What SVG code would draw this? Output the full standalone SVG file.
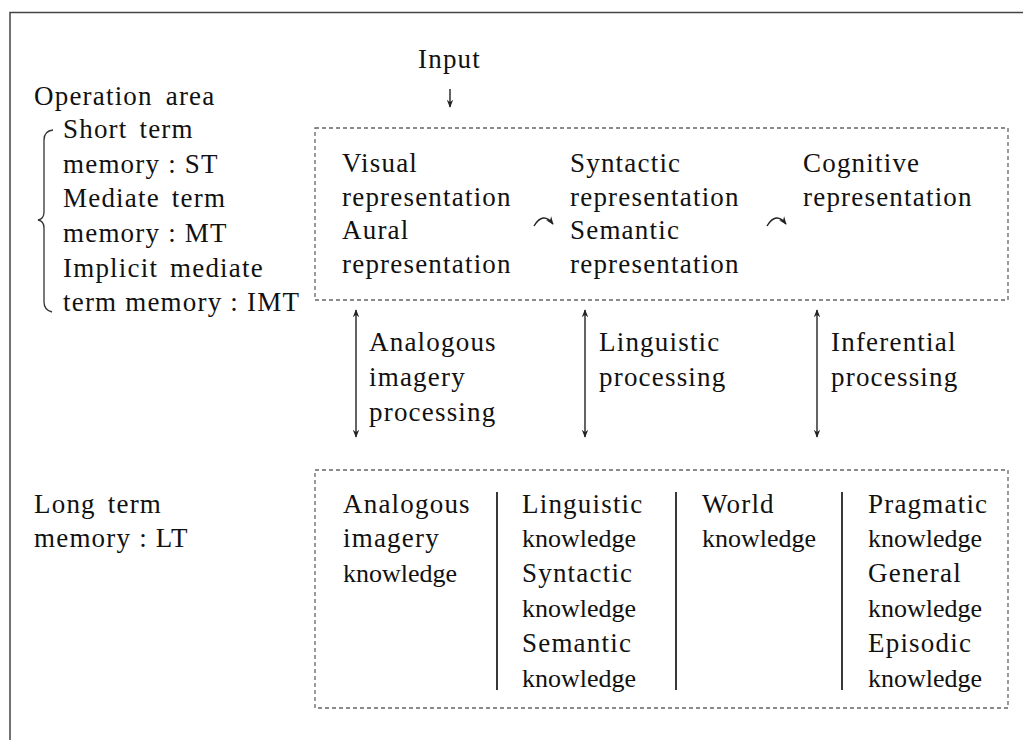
<svg xmlns="http://www.w3.org/2000/svg" width="1023" height="740" viewBox="0 0 1023 740">
<style>
  text { font-family: "Liberation Serif", "Times New Roman", serif; fill: #111; }
  .t { font-size: 27px; letter-spacing: 1.2px; }
  .k { font-size: 26px; }
  .frame { fill: none; stroke: #444; stroke-width: 1.5; }
  .dash { fill: none; stroke: #666; stroke-width: 1.3; stroke-dasharray: 4 3; }
  .sep { stroke: #222; stroke-width: 1.8; }
  .arr { fill: none; stroke: #222; stroke-width: 1.4; }
  .brace { fill: none; stroke: #333; stroke-width: 1.3; }
</style>
<defs>
  <marker id="ah" viewBox="0 0 10 10" refX="9" refY="5" markerWidth="8" markerHeight="8" orient="auto-start-reverse" markerUnits="userSpaceOnUse">
    <path d="M0,1 L10,5 L0,9 L3,5 Z" fill="#222"/>
  </marker>
</defs>
<rect width="1023" height="740" fill="#fff"/>
<path class="frame" d="M10,740 L10,12.5 L1023,12.5"/>

<g id="operation-area">
  <text class="t" x="34" y="105" word-spacing="5">Operation area</text>
  <path class="brace" d="M53,130 Q44,131 44,140 L44,212 Q44,219 38,220 Q44,221 44,228 L44,302 Q44,310 52,312"/>
  <text class="t" x="63" y="138" word-spacing="4">Short term</text>
  <text class="t" x="63" y="173">memory : ST</text>
  <text class="t" x="63" y="207" word-spacing="4">Mediate term</text>
  <text class="t" x="63" y="242">memory : MT</text>
  <text class="t" x="63" y="277" word-spacing="4">Implicit mediate</text>
  <text class="t" x="63" y="311">term memory : IMT</text>
</g>

<g id="input">
  <text class="t" x="418" y="68">Input</text>
</g>

<g id="representation-box">
  <rect class="dash" x="315" y="128" width="693" height="172"/>
</g>
<g id="visual-aural">
  <text class="t" x="342" y="172">Visual</text>
  <text class="t" x="342" y="206">representation</text>
  <text class="t" x="342" y="239">Aural</text>
  <text class="t" x="342" y="273">representation</text>
</g>
<g id="syntactic-semantic">
  <text class="t" x="570" y="172">Syntactic</text>
  <text class="t" x="570" y="206">representation</text>
  <text class="t" x="570" y="239">Semantic</text>
  <text class="t" x="570" y="273">representation</text>
</g>
<g id="cognitive">
  <text class="t" x="803" y="172">Cognitive</text>
  <text class="t" x="803" y="206">representation</text>
</g>

<g id="processing-labels">
  <text class="t" x="369" y="351">Analogous</text>
  <text class="t" x="369" y="386">imagery</text>
  <text class="t" x="369" y="421">processing</text>
  <text class="t" x="599" y="351">Linguistic</text>
  <text class="t" x="599" y="386">processing</text>
  <text class="t" x="831" y="351">Inferential</text>
  <text class="t" x="831" y="386">processing</text>
</g>

<g id="long-term-label">
  <text class="t" x="34" y="513" word-spacing="4">Long term</text>
  <text class="t" x="34" y="547">memory : LT</text>
</g>

<g id="knowledge-box">
  <rect class="dash" x="315" y="470" width="693" height="238"/>
  <line class="sep" x1="497" y1="492" x2="497" y2="690"/>
  <line class="sep" x1="676" y1="492" x2="676" y2="690"/>
  <line class="sep" x1="842" y1="492" x2="842" y2="690"/>
</g>
<g id="analogous-knowledge">
  <text class="t" x="343" y="513">Analogous</text>
  <text class="t" x="343" y="547">imagery</text>
  <text class="k" x="343" y="582">knowledge</text>
</g>
<g id="linguistic-knowledge">
  <text class="t" x="522" y="513">Linguistic</text>
  <text class="k" x="522" y="547">knowledge</text>
  <text class="t" x="522" y="582">Syntactic</text>
  <text class="k" x="522" y="617">knowledge</text>
  <text class="t" x="522" y="652">Semantic</text>
  <text class="k" x="522" y="687">knowledge</text>
</g>
<g id="world-knowledge">
  <text class="t" x="702" y="513">World</text>
  <text class="k" x="702" y="547">knowledge</text>
</g>
<g id="pragmatic-knowledge">
  <text class="t" x="868" y="513">Pragmatic</text>
  <text class="k" x="868" y="547">knowledge</text>
  <text class="t" x="868" y="582">General</text>
  <text class="k" x="868" y="617">knowledge</text>
  <text class="t" x="868" y="652">Episodic</text>
  <text class="k" x="868" y="687">knowledge</text>
</g>

<g id="connectors">
  <line class="arr" x1="450" y1="89" x2="450" y2="107" marker-end="url(#ah)"/>
  <path class="arr" d="M534,226 Q543,211 553,224" marker-end="url(#ah)"/>
  <path class="arr" d="M767,226 Q776,211 786,224" marker-end="url(#ah)"/>
  <line class="arr" x1="356" y1="310" x2="356" y2="437" marker-start="url(#ah)" marker-end="url(#ah)"/>
  <line class="arr" x1="585" y1="310" x2="585" y2="437" marker-start="url(#ah)" marker-end="url(#ah)"/>
  <line class="arr" x1="817" y1="310" x2="817" y2="437" marker-start="url(#ah)" marker-end="url(#ah)"/>
</g>
</svg>
